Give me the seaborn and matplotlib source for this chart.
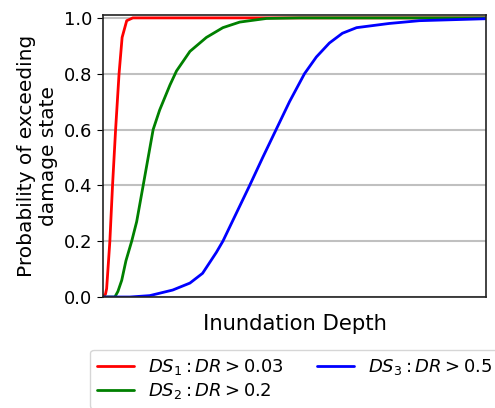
import numpy as np
import pandas as pd
import matplotlib
matplotlib.use("Agg")
import matplotlib.pyplot as plt
import seaborn as sns

# fragility curves (depth in arbitrary units, 0-10)
ds1_depth = [0.0, 0.065, 0.096, 0.18, 0.25, 0.33, 0.42, 0.50, 0.62, 0.78, 10.0]
ds1_prob = [0.0, 0.01, 0.03, 0.2, 0.4, 0.6, 0.8, 0.93, 0.99, 1.0, 1.0]

ds2_depth = [0.0, 0.31, 0.39, 0.49, 0.60, 0.75, 0.88, 1.05, 1.31, 1.48, 1.75,
             1.92, 2.27, 2.70, 3.13, 3.57, 4.27, 5.13, 10.0]
ds2_prob = [0.0, 0.0, 0.02, 0.06, 0.13, 0.2, 0.27, 0.4, 0.6, 0.67, 0.76,
            0.81, 0.88, 0.93, 0.965, 0.985, 0.998, 1.0, 1.0]

ds3_depth = [0.0, 0.70, 1.22, 1.82, 2.27, 2.60, 2.96, 3.13, 3.48, 3.83, 4.17,
             4.52, 4.87, 5.26, 5.57, 5.91, 6.25, 6.62, 7.47, 8.26, 10.0]
ds3_prob = [0.0, 0.0, 0.005, 0.025, 0.05, 0.085, 0.16, 0.2, 0.3, 0.4, 0.5,
            0.6, 0.7, 0.8, 0.86, 0.91, 0.945, 0.965, 0.98, 0.99, 0.997]

labels = [r'$DS_1: DR > 0.03$', r'$DS_2: DR > 0.2$', r'$DS_3: DR > 0.5$']
colors = ['red', 'green', 'blue']

df = pd.concat([
    pd.DataFrame({'depth': ds1_depth, 'prob': ds1_prob, 'state': labels[0]}),
    pd.DataFrame({'depth': ds2_depth, 'prob': ds2_prob, 'state': labels[1]}),
    pd.DataFrame({'depth': ds3_depth, 'prob': ds3_prob, 'state': labels[2]}),
])

sns.set_style('ticks')
plt.rcParams.update({'text.color': 'black', 'axes.labelcolor': 'black',
                     'xtick.color': 'black', 'ytick.color': 'black'})

fig = plt.figure(figsize=(4.95, 4.08), dpi=100)
ax = fig.add_axes([0.208, 0.272, 0.774, 0.691])

sns.lineplot(data=df, x='depth', y='prob', hue='state', palette=colors,
             linewidth=2, ax=ax, sort=False)

ax.set_xlim(0, 10)
ax.set_ylim(0, 1.01)
ax.set_yticks([0, 0.2, 0.4, 0.6, 0.8, 1.0])
ax.set_xticks([])
ax.yaxis.grid(True, color='#c0c0c0', linewidth=1.5)
ax.set_axisbelow(True)
ax.tick_params(axis='y', labelsize=13, length=4)
for sp in ax.spines.values():
    sp.set_visible(True)
    sp.set_color('#222222')
    sp.set_linewidth(1.2)

ax.set_xlabel('Inundation Depth', fontsize=15.2, labelpad=12)
ax.set_ylabel('Probability of exceeding\ndamage state', fontsize=14.5)

ax.legend(loc='upper center', bbox_to_anchor=(0.501, -0.155), ncol=2,
          fontsize=13, title=None, frameon=True, columnspacing=1.85,
          labelspacing=0.25, handlelength=2.0)

fig.savefig('out.png', dpi=100)
